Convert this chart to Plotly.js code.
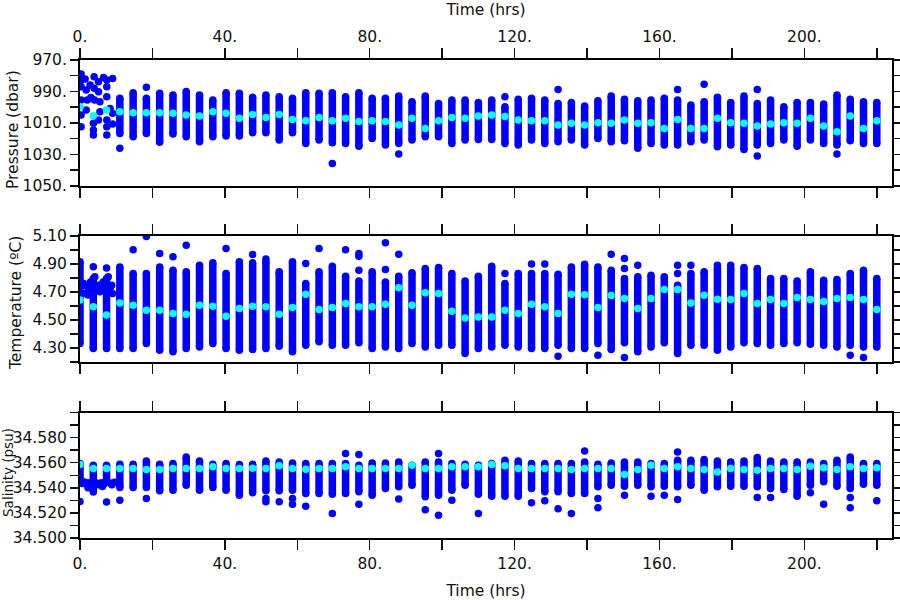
<!DOCTYPE html>
<html>
<head>
<meta charset="utf-8">
<script src="https://cdn.plot.ly/plotly-3.0.1.min.js"></script>
<style>html,body{margin:0;padding:0;background:#fff;}#chart{width:900px;height:600px;}</style>
</head>
<body>
<div id="chart"></div>
<script>
// ---- profile times (hrs) ----
const hours = [0, 3.67, 7.33, 11, 14.67, 18.33, 22, 25.67, 29.33, 33, 36.67, 40.33, 44, 47.67, 51.33, 55, 58.67,
  62.33, 66, 69.67, 73.33, 77, 80.67, 84.33, 88, 91.67, 95.33, 99, 102.67, 106.33, 110, 113.67, 117.33, 121,
  124.67, 128.33, 132, 135.67, 139.33, 143, 146.67, 150.33, 154, 157.67, 161.33, 165, 168.67, 172.33, 176,
  179.67, 183.33, 187, 190.67, 194.33, 198, 201.67, 205.33, 209, 212.67, 216.33, 220];

// ---- pressure (dbar): profile extent, means, outliers, early scattered samples ----
const presTop = [null, null, null, 994.4, 990.8, 994.4, 991.2, 992.3, 990.1, 992.3, 995.4, 990.8, 991.2, 993.7,
  992.3, 993.3, 994.4, 990.8, 991.2, 990.8, 993.3, 990.8, 994.4, 994.4, 992.9, 996.5, 992.9, 997.6, 995.4, 995.4,
  997.1, 995.4, 999.7, 995.0, 994.4, 995.4, 997.6, 997.1, 999.3, 995.9, 992.9, 995.0, 995.9, 995.4, 994.4, 995.4,
  998.6, 996.5, 993.7, 997.1, 992.9, 997.6, 995.4, 999.7, 997.1, 997.1, 998.0, 992.3, 995.0, 996.5, 997.1];
const presBottom = [null, null, null, 1016.7, 1018.8, 1016.7, 1022.4, 1017.1, 1018.8, 1022.0, 1018.8, 1018.4,
  1018.4, 1016.3, 1016.3, 1020.9, 1016.3, 1023.1, 1020.9, 1022.6, 1023.1, 1024.8, 1019.9, 1024.1, 1023.1, 1020.9,
  1018.8, 1018.8, 1023.1, 1020.9, 1020.5, 1020.5, 1023.1, 1024.1, 1020.9, 1023.1, 1022.0, 1020.9, 1024.1, 1019.9,
  1022.0, 1021.4, 1026.2, 1023.1, 1024.1, 1024.1, 1022.0, 1020.9, 1025.2, 1024.1, 1026.9, 1024.1, 1023.1, 1020.9,
  1024.8, 1020.9, 1023.1, 1024.1, 1021.4, 1023.1, 1023.1];
const presMean = [999.7, 1005.4, 1001.8, 1002.9, 1003.5, 1003.5, 1003.5, 1003.9, 1005.0, 1005.6, 1002.9, 1003.9,
  1007.1, 1004.6, 1006.5, 1004.6, 1007.8, 1008.6, 1006.5, 1008.6, 1007.1, 1009.2, 1008.6, 1009.2, 1011.4, 1007.1,
  1013.5, 1008.6, 1006.5, 1007.1, 1005.6, 1005.0, 1006.0, 1008.2, 1008.6, 1008.6, 1011.4, 1010.3, 1011.4, 1009.9,
  1010.3, 1008.2, 1010.3, 1009.9, 1013.5, 1007.8, 1013.5, 1013.5, 1007.1, 1009.9, 1010.3, 1012.0, 1010.7, 1009.9,
  1010.3, 1007.1, 1012.0, 1015.6, 1005.6, 1013.5, 1008.6];
const presOutHours = [11, 18.33, 69.67, 88, 117.33, 132, 165, 172.33, 187, 187, 209];
const presOutValues = [1026.2, 987.4, 1035.8, 1029.8, 993.3, 988.7, 988.7, 985.5, 988.7, 1031.1, 1029.8];
const presEarlyHours = [0.3, 0.3, 0.3, 0.3, 0.3, 0.3, 1.4, 1.7, 2.0, 1.7, 2.8, 3.0, 3.9, 3.9, 4.0, 3.7, 3.7, 3.7,
  5.1, 5.1, 5.5, 5.5, 5.1, 6.5, 7.4, 7.4, 7.4, 7.4, 7.4, 7.4, 8.3, 9.0, 9.0, 9.0];
const presEarlyValues = [978.9, 983.0, 987.0, 995.5, 1005.0, 1012.4, 982.1, 989.1, 995.5, 1001.8, 985.9, 993.8,
  980.6, 988.0, 995.5, 1010.3, 1014.5, 1017.7, 983.8, 990.2, 996.5, 1002.9, 1008.2, 981.2, 982.7, 987.0, 993.3,
  1008.2, 1012.4, 1017.7, 1000.8, 981.7, 1003.9, 1010.7];

// ---- temperature (deg C) ----
const tempHi = [4.914, 4.795, 4.795, 4.878, 4.831, 4.831, 4.878, 4.855, 4.843, 4.890, 4.907, 4.831, 4.914, 4.907,
  4.914, 4.843, 4.914, 4.759, 4.843, 4.883, 4.812, 4.778, 4.843, 4.771, 4.812, 4.836, 4.866, 4.874, 4.831, 4.778,
  4.812, 4.883, 4.759, 4.831, 4.831, 4.831, 4.826, 4.878, 4.897, 4.878, 4.855, 4.795, 4.807, 4.819, 4.807, 4.747,
  4.831, 4.843, 4.866, 4.866, 4.874, 4.866, 4.795, 4.795, 4.778, 4.843, 4.783, 4.788, 4.831, 4.855, 4.795];
const tempLo = [4.331, 4.295, 4.295, 4.295, 4.295, 4.331, 4.284, 4.272, 4.295, 4.307, 4.331, 4.295, 4.284, 4.288,
  4.295, 4.312, 4.272, 4.319, 4.343, 4.319, 4.319, 4.336, 4.295, 4.307, 4.295, 4.331, 4.307, 4.319, 4.319, 4.260,
  4.295, 4.307, 4.319, 4.307, 4.295, 4.295, 4.319, 4.295, 4.295, 4.331, 4.288, 4.336, 4.272, 4.307, 4.336, 4.260,
  4.319, 4.319, 4.284, 4.307, 4.336, 4.331, 4.319, 4.331, 4.336, 4.326, 4.319, 4.307, 4.319, 4.307, 4.307];
const tempMean = [4.641, 4.593, 4.534, 4.621, 4.605, 4.569, 4.569, 4.545, 4.540, 4.605, 4.598, 4.526, 4.581, 4.598,
  4.593, 4.540, 4.588, 4.683, 4.574, 4.588, 4.617, 4.593, 4.593, 4.612, 4.729, 4.605, 4.693, 4.688, 4.562, 4.514,
  4.521, 4.521, 4.569, 4.545, 4.612, 4.593, 4.545, 4.683, 4.679, 4.588, 4.674, 4.652, 4.581, 4.652, 4.717, 4.717,
  4.621, 4.676, 4.648, 4.645, 4.688, 4.617, 4.645, 4.617, 4.660, 4.645, 4.631, 4.652, 4.660, 4.645, 4.574];
const tempOutHours = [3.67, 7.33, 14.67, 18.33, 22, 25.67, 29.33, 40.33, 47.67, 51.33, 62.33, 66, 73.33, 77, 77, 77,
  84.33, 84.33, 88, 117.33, 124.67, 128.33, 132, 143, 146.67, 150.33, 150.33, 150.33, 154, 165, 165, 168.67, 176,
  179.67, 212.67, 216.33];
const tempOutValues = [4.879, 4.870, 5.000, 5.095, 4.974, 4.950, 5.033, 5.010, 4.967, 4.935, 4.902, 5.010, 5.000,
  4.974, 4.955, 4.855, 5.050, 4.860, 4.969, 4.831, 4.898, 4.898, 4.240, 4.248, 4.969, 4.938, 4.867, 4.231, 4.890,
  4.890, 4.831, 4.890, 4.890, 4.890, 4.248, 4.231];
const tempEarlyHours = [0.9, 1.4, 2.2, 2.3, 2.9, 4.1, 5.1, 5.5, 6.0, 6.4, 7.8, 8.3, 8.75, 9.0, 1.0, 4.6, 3.3, 6.9];
const tempEarlyValues = [4.689, 4.748, 4.677, 4.724, 4.771, 4.807, 4.748, 4.700, 4.724, 4.771, 4.807, 4.724, 4.748,
  4.689, 4.760, 4.735, 4.735, 4.745];

// ---- salinity (psu) ----
const salHi = [34.5593, 34.5579, 34.5579, 34.5588, 34.5588, 34.5614, 34.5588, 34.5593, 34.5646, 34.5614, 34.5588,
  34.5593, 34.5585, 34.5588, 34.5614, 34.5606, 34.5598, 34.5593, 34.5593, 34.5593, 34.5593, 34.5580, 34.5598,
  34.5598, 34.5606, 34.5580, 34.5606, 34.5606, 34.5593, 34.5588, 34.5580, 34.5593, 34.5619, 34.5614, 34.5593,
  34.5593, 34.5593, 34.5593, 34.5606, 34.5588, 34.5598, 34.5606, 34.5606, 34.5593, 34.5593, 34.5619, 34.5619,
  34.5625, 34.5614, 34.5606, 34.5614, 34.5641, 34.5614, 34.5606, 34.5606, 34.5606, 34.5593, 34.5619, 34.5646,
  34.5593, 34.5593];
const salLo = [34.5440, 34.5367, 34.5447, 34.5402, 34.5402, 34.5402, 34.5376, 34.5381, 34.5421, 34.5381, 34.5402,
  34.5381, 34.5341, 34.5360, 34.5376, 34.5376, 34.5381, 34.5354, 34.5354, 34.5349, 34.5354, 34.5368, 34.5341,
  34.5394, 34.5408, 34.5421, 34.5328, 34.5341, 34.5381, 34.5421, 34.5349, 34.5333, 34.5333, 34.5333, 34.5394,
  34.5368, 34.5368, 34.5354, 34.5354, 34.5408, 34.5421, 34.5413, 34.5421, 34.5408, 34.5413, 34.5408, 34.5421,
  34.5381, 34.5408, 34.5413, 34.5413, 34.5408, 34.5394, 34.5386, 34.5333, 34.5421, 34.5448, 34.5413, 34.5394,
  34.5429, 34.5421];
const salMean = [34.5585, 34.5553, 34.5553, 34.5553, 34.5553, 34.5545, 34.5545, 34.5553, 34.5553, 34.5553, 34.5567,
  34.5553, 34.5553, 34.5556, 34.5553, 34.5575, 34.5553, 34.5548, 34.5553, 34.5553, 34.5567, 34.5553, 34.5553,
  34.5553, 34.5553, 34.5580, 34.5553, 34.5553, 34.5567, 34.5567, 34.5567, 34.5585, 34.5575, 34.5553, 34.5553,
  34.5553, 34.5553, 34.5545, 34.5553, 34.5553, 34.5553, 34.5506, 34.5545, 34.5580, 34.5553, 34.5567, 34.5553,
  34.5545, 34.5527, 34.5553, 34.5545, 34.5540, 34.5553, 34.5553, 34.5545, 34.5572, 34.5559, 34.5545, 34.5567,
  34.5553, 34.5559];
const salOutHours = [0, 7.33, 11, 18.33, 51.33, 51.33, 55, 58.67, 58.67, 62.33, 69.67, 73.33, 77, 77, 88, 95.33, 99,
  99, 102.67, 110, 124.67, 128.33, 132, 135.67, 139.33, 143, 143, 150.33, 157.67, 161.33, 165, 165, 187, 190.67,
  201.67, 205.33, 212.67, 212.67, 220];
const salOutValues = [34.5290, 34.5287, 34.5301, 34.5314, 34.5314, 34.5288, 34.5288, 34.5314, 34.5269, 34.5253,
  34.5195, 34.5673, 34.5665, 34.5269, 34.5310, 34.5226, 34.5673, 34.5181, 34.5301, 34.5195, 34.5280, 34.5296,
  34.5234, 34.5195, 34.5694, 34.5314, 34.5242, 34.5341, 34.5333, 34.5341, 34.5686, 34.5306, 34.5322, 34.5322,
  34.5360, 34.5269, 34.5322, 34.5242, 34.5296];
const salEarlyHours = [0.3, 0.6, 1.4, 2.0, 2.7, 3.3, 4.4, 5.2, 5.9, 6.6, 8.1, 8.8, 9.5, 2.2, 6.2];
const salEarlyValues = [34.5460, 34.5435, 34.5445, 34.5425, 34.5440, 34.5430, 34.5440, 34.5425, 34.5440, 34.5430,
  34.5440, 34.5425, 34.5445, 34.5400, 34.5410];

// ---- axis ticks and titles ----
const hourTickVals = [0, 20, 40, 60, 80, 100, 120, 140, 160, 180, 200, 220];
const hourTickText = ['0.', '', '40.', '', '80.', '', '120.', '', '160.', '', '200.', ''];
const presTickVals = [970, 980, 990, 1000, 1010, 1020, 1030, 1040, 1050];
const presTickText = ['970.', '', '990.', '', '1010.', '', '1030.', '', '1050.'];
const tempTickVals = [4.2, 4.3, 4.4, 4.5, 4.6, 4.7, 4.8, 4.9, 5.0, 5.1];
const tempTickText = ['', '4.30', '', '4.50', '', '4.70', '', '4.90', '', '5.10'];
const salTickVals = [34.50, 34.51, 34.52, 34.53, 34.54, 34.55, 34.56, 34.57, 34.58, 34.59, 34.60];
const salTickText = ['34.500', '', '34.520', '', '34.540', '', '34.560', '', '34.580', '', ''];
const panelTitles = ['Pressure (dbar)', 'Temperature (ºC)', 'Salinity (psu)'];

// ---- build traces ----
const BLUE = '#0000ff', CYAN = '#00ffff';
const DOT = 7.5;
function segs(lo, hi) {
  const x = [], y = [];
  for (let i = 0; i < hours.length; i++) {
    if (lo[i] === null || hi[i] === null) continue;
    x.push(hours[i], hours[i], null);
    y.push(lo[i], hi[i], null);
  }
  return {x, y};
}
function panel(xa, ya, lo, hi, outH, outV, earlyH, earlyV, mean) {
  const s = segs(lo, hi);
  return [
    {type: 'scatter', mode: 'lines+markers', x: s.x, y: s.y, xaxis: xa, yaxis: ya, connectgaps: false,
     line: {color: BLUE, width: DOT}, marker: {color: BLUE, size: DOT}, hoverinfo: 'skip'},
    {type: 'scatter', mode: 'markers', x: outH, y: outV, xaxis: xa, yaxis: ya,
     marker: {color: BLUE, size: DOT}, hoverinfo: 'skip'},
    {type: 'scatter', mode: 'markers', x: earlyH, y: earlyV, xaxis: xa, yaxis: ya,
     marker: {color: BLUE, size: DOT}, hoverinfo: 'skip'},
    {type: 'scatter', mode: 'markers', x: hours, y: mean, xaxis: xa, yaxis: ya,
     marker: {color: CYAN, size: DOT}, hoverinfo: 'skip'}
  ];
}
const data = [].concat(
  panel('x', 'y', presBottom, presTop, presOutHours, presOutValues, presEarlyHours, presEarlyValues, presMean),
  panel('x2', 'y2', tempLo, tempHi, tempOutHours, tempOutValues, tempEarlyHours, tempEarlyValues, tempMean),
  panel('x3', 'y3', salLo, salHi, salOutHours, salOutValues, salEarlyHours, salEarlyValues, salMean)
);

const TXT = '#111';
const tickFont = {family: 'DejaVu Sans, sans-serif', size: 15.5, color: TXT};
const titleFont = {family: 'DejaVu Sans, sans-serif', size: 15.5, color: TXT};
function xax(extra) {
  return Object.assign({
    domain: [0, 1], range: [0, 224.2], tickmode: 'array', tickvals: hourTickVals, ticktext: hourTickText,
    ticks: 'outside', ticklen: 10, tickwidth: 1.5, tickcolor: '#111', showline: true, linewidth: 2,
    linecolor: '#000', mirror: 'ticks', showgrid: false, zeroline: false, tickfont: tickFont, fixedrange: true
  }, extra);
}
function yax(extra) {
  return Object.assign({
    tickmode: 'array', ticks: 'outside', ticklen: 8, tickwidth: 1.5, tickcolor: '#111', showline: true,
    linewidth: 2, linecolor: '#000', mirror: 'ticks', showgrid: false, zeroline: false, tickfont: tickFont,
    fixedrange: true
  }, extra);
}
function ytitle(text, x, y, size) {
  return {text: text, xref: 'paper', yref: 'paper', x: x, y: y, xanchor: 'center', yanchor: 'middle',
    textangle: -90, showarrow: false, font: Object.assign({}, titleFont, {size: size})};
}
const layout = {
  width: 900, height: 600,
  margin: {l: 80, r: 8, t: 60, b: 62},
  paper_bgcolor: '#fff', plot_bgcolor: '#fff', showlegend: false,
  font: {family: 'DejaVu Sans, sans-serif', size: 15, color: TXT},
  xaxis: xax({anchor: 'y', side: 'top', title: {text: 'Time (hrs)', font: titleFont, standoff: 8}}),
  yaxis: yax({anchor: 'x', domain: [0.7369, 1], range: [1050, 970], tickvals: presTickVals, ticktext: presTickText}),
  xaxis2: xax({anchor: 'y2', side: 'bottom', showticklabels: false}),
  yaxis2: yax({anchor: 'x2', domain: [0.3684, 0.6322], range: [4.2, 5.1], tickvals: tempTickVals, ticktext: tempTickText}),
  xaxis3: xax({anchor: 'y3', side: 'bottom', title: {text: 'Time (hrs)', font: titleFont, standoff: 15}}),
  yaxis3: yax({anchor: 'x3', domain: [0, 0.2625], range: [34.5, 34.6], tickvals: salTickVals, ticktext: salTickText}),
  annotations: [
    ytitle(panelTitles[0], -0.0825, 0.8536, 15.5),
    ytitle(panelTitles[1], -0.0788, 0.4916, 15.5),
    ytitle(panelTitles[2], -0.0887, 0.1381, 13.5)
  ]
};
Plotly.newPlot('chart', data, layout, {displayModeBar: false, staticPlot: true});
</script>
</body>
</html>
